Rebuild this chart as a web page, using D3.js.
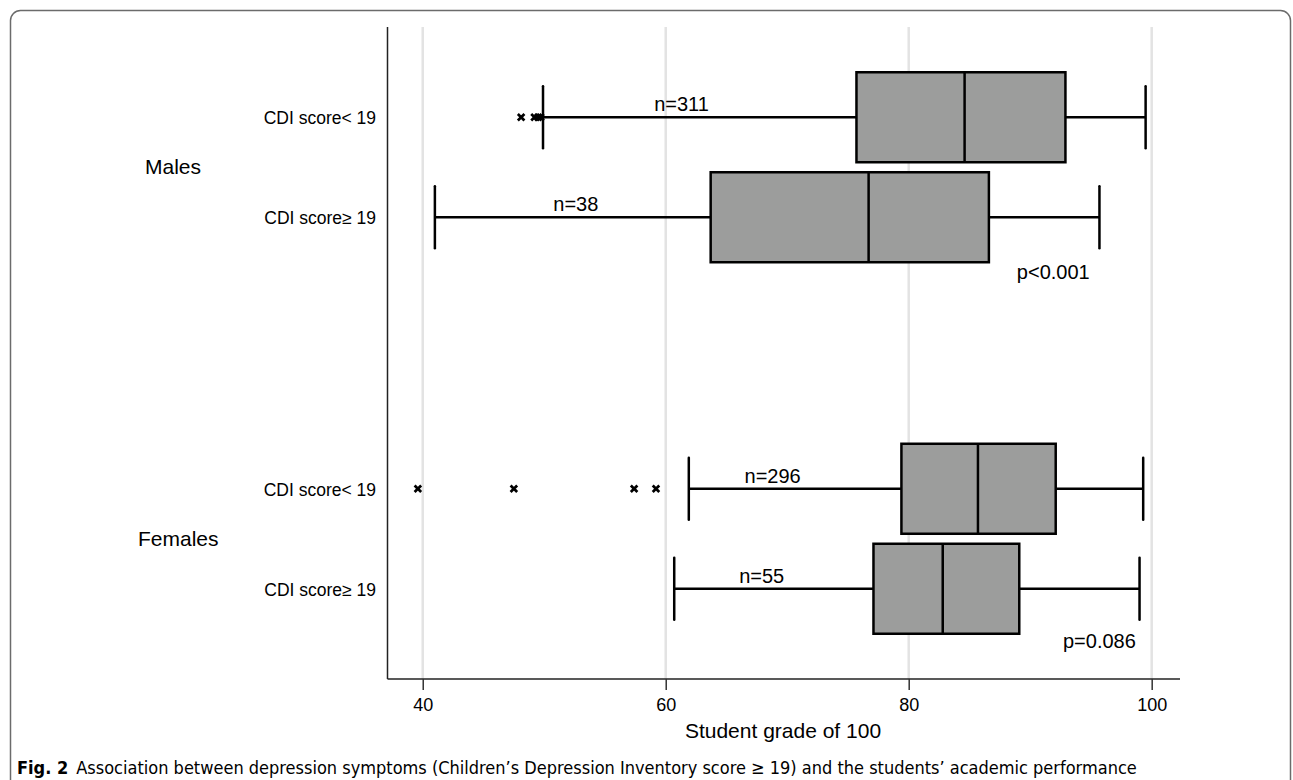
<!DOCTYPE html>
<html>
<head>
<meta charset="utf-8">
<script src="https://cdn.jsdelivr.net/npm/d3@7"></script>
<style>
  body { margin: 0; background: #fff; }
  text { font-family: "Liberation Sans", Arial, sans-serif; fill: #000; }
</style>
</head>
<body>
<script>
// values (student grade of 100)
var groups = ["Males", "Females"];
var cdiLevels = ["CDI score< 19", "CDI score\u2265 19"];
var lowerWhisker = [49.9, 41.0, 61.9, 60.7];
var q1 = [75.7, 63.7, 79.4, 77.1];
var median = [84.6, 76.7, 85.7, 82.8];
var q3 = [92.9, 86.6, 92.1, 89.1];
var upperWhisker = [99.5, 95.7, 99.3, 99.0];
var outliers = [[48.1, 49.2, 49.5, 49.7], [], [39.6, 47.5, 57.4, 59.2], []];
var nLabels = ["n=311", "n=38", "n=296", "n=55"];
var nLabelAt = [61.3, 52.6, 68.8, 67.9];
var pLabels = ["p<0.001", "p=0.086"];
var pLabelAt = [88.9, 92.7];
var xTicks = [40, 60, 80, 100];

var rows = [];
groups.forEach(function(g, gi){
    cdiLevels.forEach(function(c, ci){
        var i = gi * 2 + ci;
        rows.push({group: g, cdi: c, lw: lowerWhisker[i], q1: q1[i], med: median[i],
            q3: q3[i], uw: upperWhisker[i], out: outliers[i], n: nLabels[i], nx: nLabelAt[i]});
    });
});

var W = 1293, H = 780;
var svg = d3.select("body").append("svg").attr("width", W).attr("height", H);

// outer frame of the figure
svg.append("rect")
    .attr("x", 10.5).attr("y", 10.5)
    .attr("width", 1280).attr("height", 820)
    .attr("rx", 10).attr("ry", 10)
    .attr("fill", "none").attr("stroke", "#6b6b6b").attr("stroke-width", 1.5);

var pLeft = 387.5, pRight = 1180, pTop = 27, pBottom = 679;

var x = d3.scaleLinear().domain([37.1, 102.33]).range([pLeft, pRight]);

var yOuter = d3.scaleBand().domain(groups).range([pTop, pBottom])
    .paddingInner(0.4886).paddingOuter(0.1218);
var yInner = d3.scaleBand().domain(cdiLevels).range([0, yOuter.bandwidth()])
    .paddingInner(0.1).paddingOuter(0);

function yTop(d){ return yOuter(d.group) + yInner(d.cdi); }
function yMid(d){ return yTop(d) + yInner.bandwidth() / 2; }

// grid
svg.append("g").selectAll("line").data(xTicks).enter().append("line")
    .attr("x1", function(d){ return x(d); }).attr("x2", function(d){ return x(d); })
    .attr("y1", pTop).attr("y2", pBottom)
    .attr("stroke", "#e3e3e3").attr("stroke-width", 2.5);

// x axis
var xAxis = d3.axisBottom(x).tickValues(xTicks).tickSize(11).tickPadding(8);
var gx = svg.append("g").attr("transform", "translate(0," + pBottom + ")").call(xAxis);
gx.select(".domain").attr("stroke", "#222").attr("stroke-width", 1.5)
    .attr("d", "M" + pLeft + ",0H" + pRight);
gx.selectAll(".tick line").attr("stroke", "#333").attr("stroke-width", 1.5);
gx.selectAll(".tick text").attr("font-size", 18).attr("fill", "#000");

// y axis line
svg.append("line").attr("x1", pLeft).attr("x2", pLeft).attr("y1", pTop).attr("y2", pBottom)
    .attr("stroke", "#222").attr("stroke-width", 1.5);

svg.append("text").attr("x", 783).attr("y", 738).attr("text-anchor", "middle")
    .attr("font-size", 21).text("Student grade of 100");

// category labels
svg.append("g").selectAll("text").data(rows).enter().append("text")
    .attr("x", 376).attr("y", function(d){ return yMid(d) + 7; })
    .attr("text-anchor", "end").attr("font-size", 17.5)
    .text(function(d){ return d.cdi; });

svg.append("g").selectAll("text").data(groups).enter().append("text")
    .attr("x", function(d){ return d == "Males" ? 145 : 138; })
    .attr("y", function(d){ return yOuter(d) + yOuter.bandwidth() / 2 + 7; })
    .attr("font-size", 21)
    .text(function(d){ return d; });

var capHalf = 31;
var boxes = svg.append("g").selectAll("g").data(rows).enter().append("g");

// whiskers
boxes.append("line")
    .attr("x1", function(d){ return x(d.lw); }).attr("x2", function(d){ return x(d.q1); })
    .attr("y1", yMid).attr("y2", yMid)
    .attr("stroke", "#000").attr("stroke-width", 2.5);
boxes.append("line")
    .attr("x1", function(d){ return x(d.q3); }).attr("x2", function(d){ return x(d.uw); })
    .attr("y1", yMid).attr("y2", yMid)
    .attr("stroke", "#000").attr("stroke-width", 2.5);

// caps
["lw", "uw"].forEach(function(k){
    boxes.append("line")
        .attr("x1", function(d){ return x(d[k]); }).attr("x2", function(d){ return x(d[k]); })
        .attr("y1", function(d){ return yMid(d) - capHalf; })
        .attr("y2", function(d){ return yMid(d) + capHalf; })
        .attr("stroke", "#000").attr("stroke-width", 2.5).attr("stroke-linecap", "round");
});

// boxes
boxes.append("rect")
    .attr("x", function(d){ return x(d.q1); })
    .attr("y", yTop)
    .attr("width", function(d){ return x(d.q3) - x(d.q1); })
    .attr("height", yInner.bandwidth())
    .attr("fill", "#9c9d9c").attr("stroke", "#000").attr("stroke-width", 2.5);
boxes.append("line")
    .attr("x1", function(d){ return x(d.med); }).attr("x2", function(d){ return x(d.med); })
    .attr("y1", yTop).attr("y2", function(d){ return yTop(d) + yInner.bandwidth(); })
    .attr("stroke", "#000").attr("stroke-width", 2.5);

// outliers
var marker = d3.symbol().type(d3.symbolX).size(30);
boxes.each(function(d){
    d3.select(this).selectAll("path.out").data(d.out).enter().append("path")
        .attr("class", "out")
        .attr("d", marker)
        .attr("transform", function(v){ return "translate(" + x(v) + "," + yMid(d) + ")"; })
        .attr("fill", "none").attr("stroke", "#000").attr("stroke-width", 2.7);
});

// n labels
boxes.append("text")
    .attr("x", function(d){ return x(d.nx); })
    .attr("y", function(d){ return yMid(d) - 6; })
    .attr("text-anchor", "middle").attr("font-size", 20)
    .text(function(d){ return d.n; });

// p values
svg.append("g").selectAll("text").data(pLabels).enter().append("text")
    .attr("x", function(d, i){ return x(pLabelAt[i]); })
    .attr("y", function(d, i){ return i == 0 ? 279 : 648; })
    .attr("font-size", 20)
    .text(function(d){ return d; });

// caption
var cap = svg.append("text").attr("x", 17).attr("y", 774).attr("font-size", 18)
    .style("font-family", "'Liberation Sans Narrow', 'DejaVu Sans Condensed', sans-serif");
cap.append("tspan").attr("font-weight", "bold").text("Fig. 2");
cap.append("tspan").attr("dx", 8)
    .text("Association between depression symptoms (Children\u2019s Depression Inventory score \u2265 19) and the students\u2019 academic performance");
</script>
</body>
</html>
